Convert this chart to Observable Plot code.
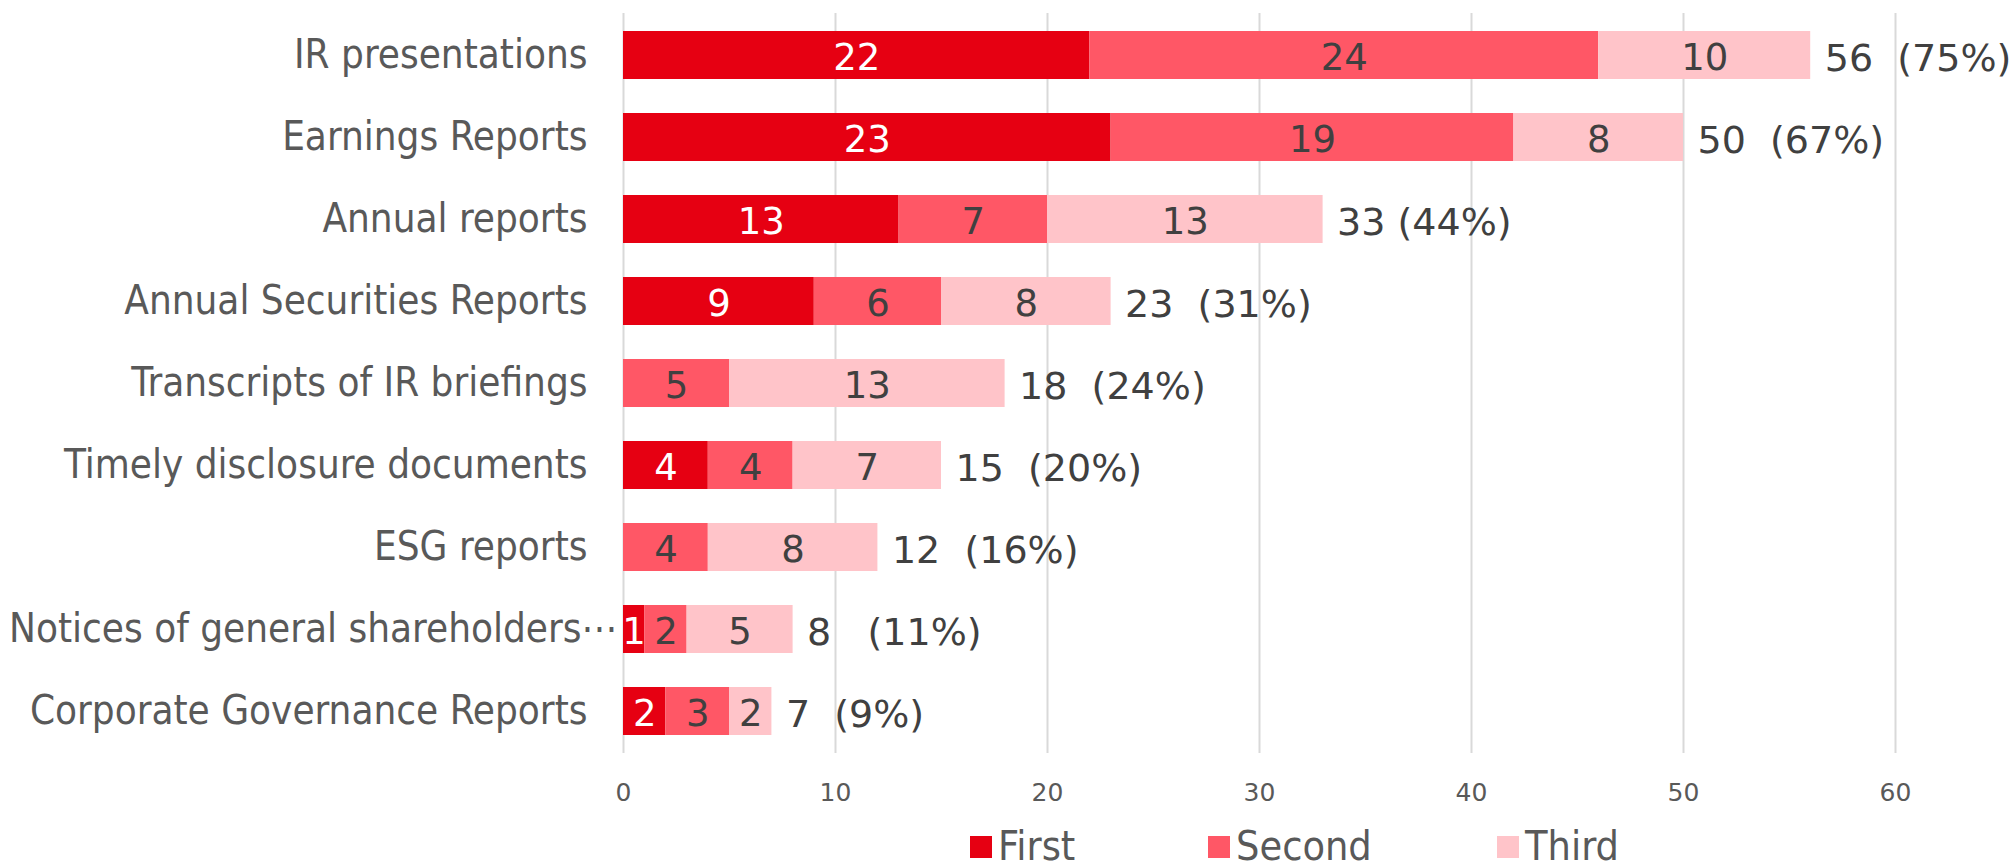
<!DOCTYPE html>
<html>
<head>
<meta charset="utf-8">
<script src="https://cdn.jsdelivr.net/npm/d3@7"></script>
<script src="https://cdn.jsdelivr.net/npm/@observablehq/plot@0.6"></script>
<style>
  html, body { margin: 0; padding: 0; background: #fff; width: 2015px; height: 868px; overflow: hidden; }
  #chart svg text { white-space: pre; }
  #legend { position: relative; height: 48px; width: 2015px; font-family: "DejaVu Sans Condensed", "DejaVu Sans", sans-serif; font-size: 41px; line-height: 1; color: #595959; }
  .item { position: absolute; top: 6px; display: flex; align-items: center; height: 41px; }
  .sw { width: 22px; height: 22px; margin-right: 6px; }
</style>
</head>
<body>
<div id="chart"></div>
<div id="legend"></div>
<script>
const categories = [
  "IR presentations",
  "Earnings Reports",
  "Annual reports",
  "Annual Securities Reports",
  "Transcripts of IR briefings",
  "Timely disclosure documents",
  "ESG reports",
  "Notices of general shareholders\u22ef",
  "Corporate Governance Reports"
];
const series = ["First", "Second", "Third"];
const first  = [22, 23, 13, 9, 0, 4, 0, 1, 2];
const second = [24, 19, 7, 6, 5, 4, 4, 2, 3];
const third  = [10, 8, 13, 8, 13, 7, 8, 5, 2];
const totals = [56, 50, 33, 23, 18, 15, 12, 8, 7];
const totalLabels = ["56  (75%)", "50  (67%)", "33 (44%)", "23  (31%)", "18  (24%)", "15  (20%)", "12  (16%)", "8   (11%)", "7  (9%)"];
const xTicks = [0, 10, 20, 30, 40, 50, 60];
const colors = ["#e60012", "#ff5766", "#ffc4c9"];

const rows = [];
categories.forEach((c, i) => {
  [first, second, third].forEach((arr, j) => {
    rows.push({category: c, series: series[j], value: arr[i]});
  });
});
const totalRows = categories.map((c, i) => ({category: c, total: totals[i], label: totalLabels[i]}));

const stackOpts = {x: "value", y: "category", z: "series", order: series};
const longLabel = categories[7];
const yAxisStyle = {tickSize: 0, fontSize: 40, color: "#595959", label: null};

const plot = Plot.plot({
  width: 2015,
  height: 820,
  marginTop: 13,
  marginBottom: 67,
  marginLeft: 623,
  marginRight: 120,
  style: {fontFamily: "'DejaVu Sans Condensed', 'DejaVu Sans', sans-serif", background: "#fff"},
  x: {domain: [0, 60], ticks: xTicks},
  y: {domain: categories, padding: 0.42, paddingOuter: 0.21},
  color: {domain: series, range: colors},
  marks: [
    Plot.gridX(xTicks, {stroke: "#d9d9d9", strokeOpacity: 1, strokeWidth: 2}),
    Plot.barX(rows, Plot.stackX({...stackOpts, fill: "series"})),
    Plot.text(rows.filter(d => d.value > 0), Plot.stackX({
      ...stackOpts,
      text: d => String(d.value),
      fill: d => d.series === "First" ? "#ffffff" : "#404040",
      fontSize: 37,
      fontFamily: "'DejaVu Sans', sans-serif",
      dy: 3
    })),
    Plot.text(totalRows, {
      x: "total", y: "category", text: "label",
      textAnchor: "start", dx: 14, dy: 3,
      fill: "#404040", fontSize: 38,
      fontFamily: "'DejaVu Sans', sans-serif"
    }),
    Plot.axisY(categories.filter(c => c !== longLabel), {...yAxisStyle, tickPadding: 36}),
    Plot.axisY([longLabel], {...yAxisStyle, tickPadding: 6}),
    Plot.axisX(xTicks, {tickSize: 0, tickPadding: 30, fontSize: 25, color: "#595959", label: null, fontFamily: "'DejaVu Sans', sans-serif"})
  ]
});
document.getElementById("chart").appendChild(plot);

const legend = document.getElementById("legend");
const legendX = [970, 1208, 1497];
series.forEach((s, i) => {
  const it = document.createElement("div");
  it.className = "item";
  it.style.left = legendX[i] + "px";
  it.innerHTML = `<div class="sw" style="background:${colors[i]}"></div><span>${s}</span>`;
  legend.appendChild(it);
});
</script>
</body>
</html>
